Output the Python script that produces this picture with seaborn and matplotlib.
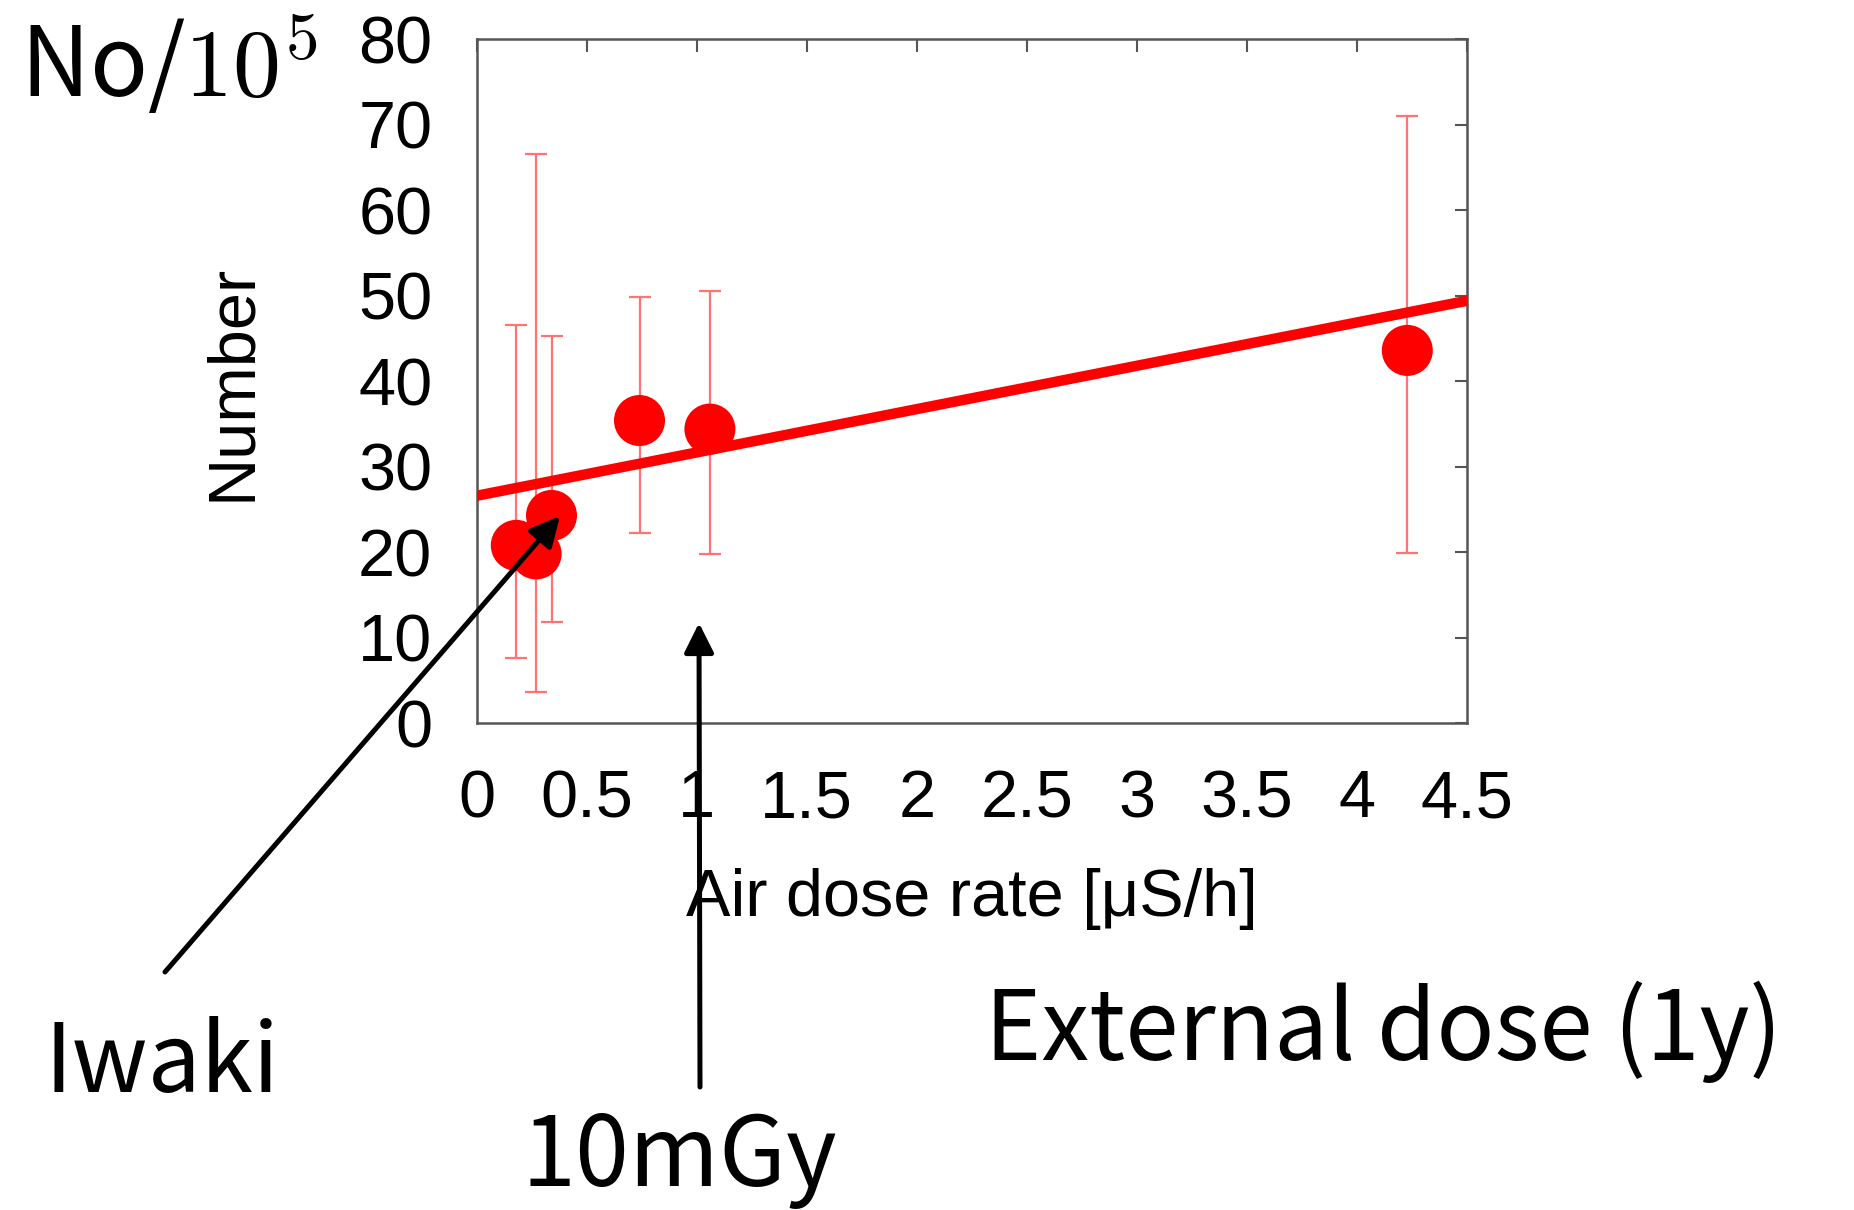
import numpy as np
import pandas as pd
import seaborn as sns
import matplotlib.pyplot as plt

# values
dose_rate = [0.18, 0.27, 0.34, 0.74, 1.06, 4.23]
number = [20.8, 19.8, 24.3, 35.4, 34.4, 43.6]
err_low = [7.6, 3.6, 11.8, 22.2, 19.8, 19.9]
err_high = [46.6, 66.6, 45.3, 49.8, 50.5, 71.0]

fit_x = [0.0, 4.5]
fit_y = [26.6, 49.4]

x_ticks = [0, 0.5, 1, 1.5, 2, 2.5, 3, 3.5, 4, 4.5]
x_ticklabels = ["0", "0.5", "1", "1.5", "2", "2.5", "3", "3.5", "4", "4.5"]
y_ticks = [0, 10, 20, 30, 40, 50, 60, 70, 80]

df = pd.DataFrame({"dose": dose_rate, "number": number})
df_fit = pd.DataFrame({"dose": fit_x, "number": fit_y})

sns.set_style("white")
plt.rcParams["font.family"] = ["Liberation Sans", "DejaVu Sans"]
plt.rcParams["mathtext.fontset"] = "cm"
plt.rcParams["text.color"] = "black"
plt.rcParams["axes.labelcolor"] = "black"

W, H = 1854, 1210
fig = plt.figure(figsize=(W / 100, H / 100), dpi=100)
ax = fig.add_axes([476.7 / W, 1 - 723.2 / H, (1466.7 - 476.7) / W, (723.2 - 39.2) / H])

# error bars (asymmetric, so plain matplotlib)
yerr = np.array([np.array(number) - np.array(err_low),
                 np.array(err_high) - np.array(number)])
ax.errorbar(dose_rate, number, yerr=yerr, fmt="none", ecolor="#ff7373",
            elinewidth=1.6, capsize=8, capthick=1.6, zorder=2)

sns.lineplot(data=df_fit, x="dose", y="number", color="#ff0000", lw=7.5,
             ax=ax, zorder=3)
sns.scatterplot(data=df, x="dose", y="number", color="#ff0000", s=1350,
                edgecolor="none", ax=ax, zorder=4, legend=False)

ax.set_xlim(0, 4.5)
ax.set_ylim(0, 80)
ax.set_xticks(x_ticks)
ax.set_xticklabels(x_ticklabels)
ax.set_yticks(y_ticks)

for s in ax.spines.values():
    s.set_color("#555555")
    s.set_linewidth(1.8)
    s.set_visible(True)

ax.tick_params(axis="both", which="major", direction="in", length=9, width=1.5,
               color="#555555", labelcolor="black", top=True, right=True,
               labelsize=48)
ax.tick_params(axis="x", pad=33)
ax.tick_params(axis="y", pad=32)

ax.set_xlabel("Air dose rate [μS/h]", fontsize=48)
ax.set_ylabel("Number", fontsize=48)
ax.xaxis.set_label_coords(0.5, -0.212)
ax.yaxis.set_label_coords(-0.215, 0.4985)

# slide annotations
ann_font = ["Noto Sans CJK JP", "DejaVu Sans"]
fig.text(20 / W, 1 - 97 / H, "No/$10^5$", fontsize=69, family=ann_font, va="baseline")
fig.text(45 / W, 1 - 1092 / H, "Iwaki", fontsize=68, family=ann_font, va="baseline")
fig.text(522 / W, 1 - 1186 / H, "10mGy", fontsize=70, family=ann_font, va="baseline")
fig.text(985 / W, 1 - 1060 / H, "External dose (1y)", fontsize=69, family=ann_font,
         va="baseline")

arrow = dict(arrowstyle="-|>", color="black", lw=3.6, mutation_scale=45,
             shrinkA=0, shrinkB=0)
ax.annotate("", xy=(560, H - 516), xytext=(165, H - 972), xycoords="figure pixels",
            textcoords="figure pixels", arrowprops=arrow, annotation_clip=False, zorder=10)
ax.annotate("", xy=(699, H - 623), xytext=(700, H - 1087), xycoords="figure pixels",
            textcoords="figure pixels", arrowprops=arrow, annotation_clip=False, zorder=10)

fig.savefig("out.png", dpi=100)
